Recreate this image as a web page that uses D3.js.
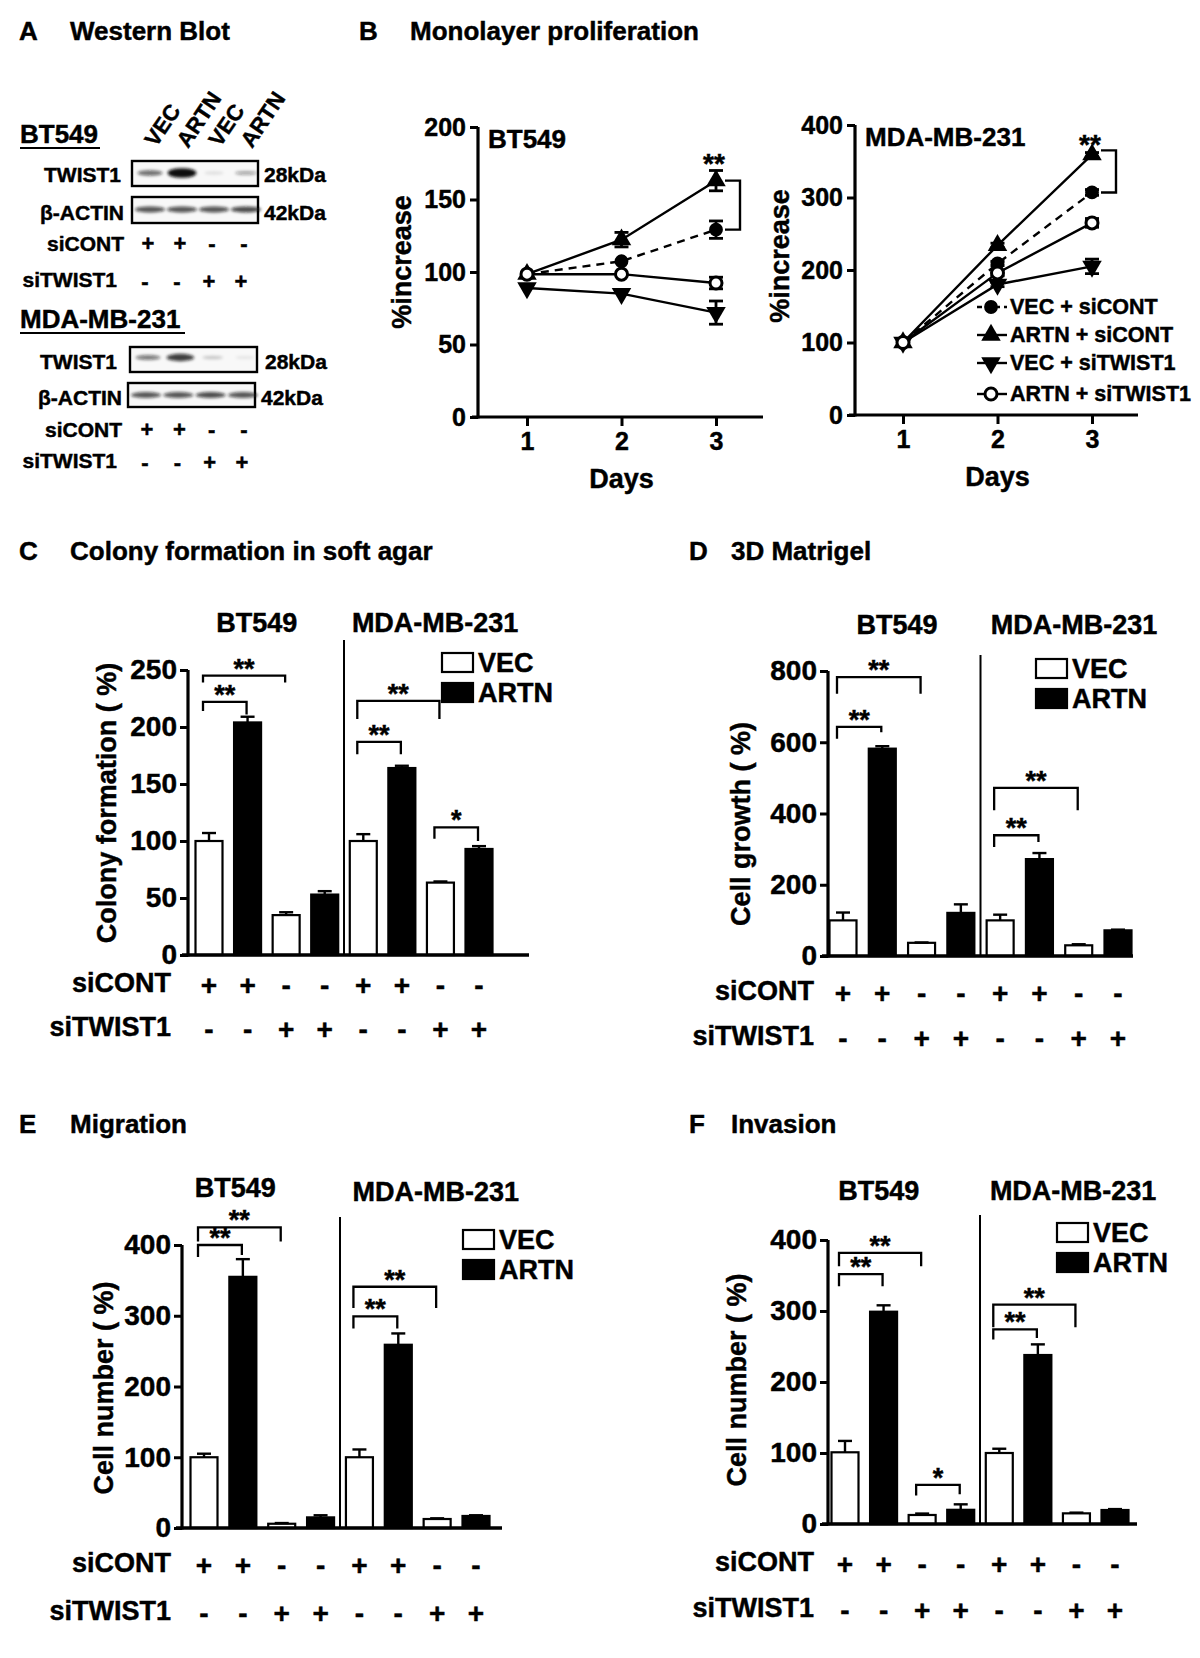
<!DOCTYPE html>
<html><head><meta charset="utf-8">
<script src="https://cdn.jsdelivr.net/npm/d3@7"></script>
<style>
body{margin:0;background:#fff;}
svg text{font-family:"Liberation Sans",Arial,Helvetica,sans-serif;font-weight:bold;fill:#000;stroke:#000;stroke-width:0.45px;}
</style></head><body>
<svg id="fig" width="1200" height="1658"></svg>
<script>
// ---------------- DATA ----------------
const laneLabels = ["VEC", "ARTN", "VEC", "ARTN"];
const blotSiCONT = ["+", "+", "-", "-"];
const blotSiTWIST1 = ["-", "-", "+", "+"];
const bt549TwistBands = [0.6, 1.0, 0.1, 0.35];
const bt549ActinBands = [0.7, 0.7, 0.7, 0.75];
const mdaTwistBands = [0.55, 0.8, 0.2, 0.08];
const mdaActinBands = [0.7, 0.7, 0.75, 0.7];

const days = [1, 2, 3];
const lineSeries = ["VEC + siCONT", "ARTN + siCONT", "VEC + siTWIST1", "ARTN + siTWIST1"];
const bt549VecSiCONT = [98.5, 107.4, 129.2];
const bt549ArtnSiCONT = [98.5, 122.3, 163];
const bt549VecSiTWIST1 = [89, 85.1, 72];
const bt549ArtnSiTWIST1 = [98.5, 98.5, 92.4];
const bt549VecSiCONTErr = [1.5, 1.5, 6];
const bt549ArtnSiCONTErr = [1.5, 5, 7];
const bt549VecSiTWIST1Err = [1, 1.5, 8];
const bt549ArtnSiTWIST1Err = [1.5, 2, 4];
const mdaVecSiCONT = [100, 209, 307];
const mdaArtnSiCONT = [100, 234, 359];
const mdaVecSiTWIST1 = [100, 180, 205];
const mdaArtnSiTWIST1 = [100, 196, 265];
const mdaVecSiCONTErr = [2, 3, 4];
const mdaArtnSiCONTErr = [2, 3, 3];
const mdaVecSiTWIST1Err = [2, 3, 10];
const mdaArtnSiTWIST1Err = [2, 4, 6];

const cellLines = ["BT549", "MDA-MB-231"];
const barTypes = ["VEC", "ARTN", "VEC", "ARTN", "VEC", "ARTN", "VEC", "ARTN"];
const barSiCONT = ["+", "+", "-", "-", "+", "+", "-", "-"];
const barSiTWIST1 = ["-", "-", "+", "+", "-", "-", "+", "+"];

const colonyMean = [100, 204, 35, 53, 100, 164, 63.5, 93];
const colonyErr = [7, 5, 2.5, 3, 6, 2, 1, 2.5];
const matrigelMean = [100, 582, 37, 121, 100, 272, 30, 72];
const matrigelErr = [22, 7, 1, 24, 16, 17, 3, 2];
const migrationMean = [100, 355, 6, 15, 100, 259, 12.7, 17];
const migrationErr = [5, 25, 1, 3, 11, 16, 1, 1];
const invasionMean = [101, 299, 12.7, 20, 100, 238, 15, 19.7];
const invasionErr = [16, 9, 2, 7.7, 6, 15, 1, 1.3];

// significance brackets: [from bar, to bar, top value, left leg value, right leg value, label]
const colonySig = [[0,2,245,239,239,"**"],[0,1,222,214,211,"**"],[4,6,223,207,207,"**"],[4,5,187,176,176,"**"],[6,7,112,102,100,"*"]];
const matrigelSig = [[0,2,783,736,736,"**"],[0,1,643,610,628,"**"],[4,6,472,409,409,"**"],[4,5,339,306,320,"**"]];
const migrationSig = [[0,2,425,405,405,"**"],[0,1,400,383,386,"**"],[4,6,341,311,311,"**"],[4,5,299,282,282,"**"]];
const invasionSig = [[0,2,382,363,363,"**"],[0,1,352,335,335,"**"],[2,3,55,40,42,"*"],[4,6,309,277,277,"**"],[4,5,274,260,262,"**"]];

// ---------------- DRAW ----------------
const svg = d3.select("#fig");
const defs = svg.append("defs");
defs.append("filter").attr("id","blur").attr("x","-50%").attr("y","-100%").attr("width","200%").attr("height","300%")
  .append("feGaussianBlur").attr("stdDeviation", 1.5);

function txt(g, x, y, s, size, anchor) {
  return g.append("text").attr("x", x).attr("y", y).text(s)
    .attr("font-size", size).attr("text-anchor", anchor || "start");
}

// Panel headers
txt(svg, 19, 40, "A", 26); txt(svg, 70, 40, "Western Blot", 26);
txt(svg, 359, 40, "B", 26); txt(svg, 410, 40, "Monolayer proliferation", 26);
txt(svg, 19, 560, "C", 26); txt(svg, 70, 560, "Colony formation in soft agar", 26);
txt(svg, 689, 560, "D", 26); txt(svg, 731, 560, "3D Matrigel", 26);
txt(svg, 19, 1133, "E", 26); txt(svg, 70, 1133, "Migration", 26);
txt(svg, 689, 1133, "F", 26); txt(svg, 731, 1133, "Invasion", 26);

// ---------- Panel A: western blot ----------
function blotBox(x0, x1, y0, y1, bands, bandYFrac, thick) {
  svg.append("rect").attr("x", x0).attr("y", y0).attr("width", x1 - x0).attr("height", y1 - y0)
    .attr("fill", "#f8f8f8").attr("stroke", "#000").attr("stroke-width", 2.4);
  const lx = d3.scalePoint().domain(d3.range(bands.length)).range([x0 + 18, x1 - 12]);
  const cy = y0 + (y1 - y0) * bandYFrac;
  svg.append("g").attr("filter", "url(#blur)").selectAll("ellipse").data(bands).join("ellipse")
    .attr("cx", (d, i) => lx(i)).attr("cy", cy)
    .attr("rx", d => thick ? 9 + 6 * Math.min(d, 0.9) : 15)
    .attr("ry", d => thick ? 1.6 + 3.2 * d * d : 3)
    .attr("fill", "#111").attr("opacity", d => Math.min(1, d));
  return lx;
}
// BT549 block
txt(svg, 20, 143, "BT549", 26);
svg.append("line").attr("x1", 20).attr("x2", 100).attr("y1", 148).attr("y2", 148).attr("stroke", "#000").attr("stroke-width", 2.2);
const lx1 = blotBox(132, 258, 161, 186, bt549TwistBands, 0.48, true);
blotBox(132, 258, 197, 223, bt549ActinBands, 0.48, false);
laneLabels.forEach((l, i) => {
  svg.append("text").attr("transform", `translate(${lx1(i) + 6},${150 - (i % 2 ? 1 : 2)}) rotate(-56)`)
    .attr("font-size", 22).text(l);
});
txt(svg, 121, 182, "TWIST1", 21, "end"); txt(svg, 264, 182, "28kDa", 21);
txt(svg, 124, 220, "β-ACTIN", 21, "end"); txt(svg, 264, 220, "42kDa", 21);
txt(svg, 124, 251, "siCONT", 21, "end");
txt(svg, 117, 287, "siTWIST1", 21, "end");
blotSiCONT.forEach((s, i) => txt(svg, lx1(i) - 2, 251, s, 22, "middle"));
blotSiTWIST1.forEach((s, i) => txt(svg, lx1(i) - 5, 289, s, 22, "middle"));
// MDA block
txt(svg, 20, 328, "MDA-MB-231", 26);
svg.append("line").attr("x1", 20).attr("x2", 185).attr("y1", 333).attr("y2", 333).attr("stroke", "#000").attr("stroke-width", 2.2);
const lx2 = blotBox(130, 257, 347, 372, mdaTwistBands, 0.42, true);
blotBox(128, 255, 383, 407, mdaActinBands, 0.5, false);
txt(svg, 117, 369, "TWIST1", 21, "end"); txt(svg, 265, 369, "28kDa", 21);
txt(svg, 122, 405, "β-ACTIN", 21, "end"); txt(svg, 261, 405, "42kDa", 21);
txt(svg, 122, 437, "siCONT", 21, "end");
txt(svg, 117, 468, "siTWIST1", 21, "end");
blotSiCONT.forEach((s, i) => txt(svg, lx2(i) - 1, 437, s, 22, "middle"));
blotSiTWIST1.forEach((s, i) => txt(svg, lx2(i) - 3, 470, s, 22, "middle"));

// ---------- Panel B: line charts ----------
const symCircle = d3.symbol().type(d3.symbolCircle).size(150);
const symTriUp = d3.symbol().type(d3.symbolTriangle).size(165);
function drawMarker(g, k, cx, cy) {
  if (k === 0) g.append("path").attr("d", symCircle()).attr("transform", `translate(${cx},${cy})`).attr("fill", "#000");
  else if (k === 1) g.append("path").attr("d", symTriUp()).attr("transform", `translate(${cx},${cy})`).attr("fill", "#000");
  else if (k === 2) g.append("path").attr("d", symTriUp()).attr("transform", `translate(${cx},${cy}) rotate(180)`).attr("fill", "#000");
  else g.append("circle").attr("cx", cx).attr("cy", cy).attr("r", 6).attr("fill", "#fff").attr("stroke", "#000").attr("stroke-width", 3);
}
function drawLineChart(o) {
  const g = svg.append("g");
  const x = d3.scaleLinear().domain([1, 3]).range(o.xr);
  const y = d3.scaleLinear().domain([0, o.ymax]).range([o.y0, o.ytop]);
  const ya = g.append("g").attr("transform", `translate(${o.ax},0)`)
    .call(d3.axisLeft(y).tickValues(o.ticks).tickSize(8).tickSizeOuter(0).tickPadding(4));
  ya.select(".domain").remove();
  ya.selectAll("line").attr("stroke-width", 3);
  ya.selectAll("text").attr("font-size", 25).attr("font-family", null);
  g.append("line").attr("x1", o.ax).attr("x2", o.ax).attr("y1", o.y0 + 1.5).attr("y2", o.ytop).attr("stroke", "#000").attr("stroke-width", 3.2);
  g.append("line").attr("x1", o.ax - 6).attr("x2", o.xend).attr("y1", o.y0).attr("y2", o.y0).attr("stroke", "#000").attr("stroke-width", 3.2);
  const xa = g.append("g").attr("transform", `translate(0,${o.y0})`)
    .call(d3.axisBottom(x).tickValues(days).tickFormat(d3.format("d")).tickSize(9).tickPadding(6));
  xa.select(".domain").remove();
  xa.selectAll("line").attr("stroke-width", 3);
  xa.selectAll("text").attr("font-size", 25).attr("font-family", null);
  txt(g, (o.xr[0] + o.xr[1]) / 2, o.y0 + 71, "Days", 27, "middle");
  g.append("text").attr("transform", `translate(${o.ylx},${o.yly}) rotate(-90)`).attr("text-anchor", "middle")
    .attr("dominant-baseline", "central").attr("font-size", 27).text("%increase");
  txt(g, o.ax + 10, o.ytop + 21, o.title, 26);
  const line = d3.line().x((d, i) => x(days[i])).y(d => y(d));
  o.series.forEach((s, k) => {
    g.append("path").attr("d", line(s.v)).attr("fill", "none").attr("stroke", "#000").attr("stroke-width", 2.4)
      .attr("stroke-dasharray", k === 0 ? "8,6" : null);
  });
  o.series.forEach((s, k) => {
    s.v.forEach((v, i) => {
      const e = s.e[i];
      if (e < 2.5) return;
      const xx = x(days[i]);
      g.append("line").attr("x1", xx).attr("x2", xx).attr("y1", y(v - e)).attr("y2", y(v + e)).attr("stroke", "#000").attr("stroke-width", 2.8);
      [v - e, v + e].forEach(b => g.append("line").attr("x1", xx - 7).attr("x2", xx + 7).attr("y1", y(b)).attr("y2", y(b)).attr("stroke", "#000").attr("stroke-width", 2.8));
    });
    s.v.forEach((v, i) => drawMarker(g, k, x(days[i]), y(v)));
  });
  return {g, x, y};
}
const bLeft = drawLineChart({
  ax: 478, xr: [527, 716], xend: 763, y0: 417, ytop: 127, ymax: 200, ticks: [0, 50, 100, 150, 200],
  ylx: 402, yly: 262, title: "BT549",
  series: [
    {v: bt549VecSiCONT, e: bt549VecSiCONTErr},
    {v: bt549ArtnSiCONT, e: bt549ArtnSiCONTErr},
    {v: bt549VecSiTWIST1, e: bt549VecSiTWIST1Err},
    {v: bt549ArtnSiTWIST1, e: bt549ArtnSiTWIST1Err}
  ]
});
const bRight = drawLineChart({
  ax: 855, xr: [903, 1092], xend: 1138, y0: 415, ytop: 125, ymax: 400, ticks: [0, 100, 200, 300, 400],
  ylx: 780, yly: 256, title: "MDA-MB-231",
  series: [
    {v: mdaVecSiCONT, e: mdaVecSiCONTErr},
    {v: mdaArtnSiCONT, e: mdaArtnSiCONTErr},
    {v: mdaVecSiTWIST1, e: mdaVecSiTWIST1Err},
    {v: mdaArtnSiTWIST1, e: mdaArtnSiTWIST1Err}
  ]
});
function lineBracket(c, vTop, vBot, x0, x1, label, dy) {
  const yT = c.y(vTop), yB = c.y(vBot);
  c.g.append("path").attr("d", `M${x0},${yT}H${x1}V${yB}H${x0}`).attr("fill", "none").attr("stroke", "#000").attr("stroke-width", 2.4);
  txt(c.g, c.x(3) - 2, yT + dy, label, 28, "middle");
}
lineBracket(bLeft, bt549ArtnSiCONT[2], bt549VecSiCONT[2], 725, 740, "**", -8);
lineBracket(bRight, mdaArtnSiCONT[2] + 6, mdaVecSiCONT[2], 1101, 1116, "**", 4);
// legend for B
const legY = [307, 335, 363, 394];
lineSeries.forEach((s, k) => {
  const g = bRight.g;
  g.append("line").attr("x1", 977).attr("x2", 1007).attr("y1", legY[k]).attr("y2", legY[k]).attr("stroke", "#000").attr("stroke-width", 2.4)
    .attr("stroke-dasharray", k === 0 ? "5,4" : null);
  drawMarker(g, k, 991, legY[k]);
  g.append("text").attr("x", 1010).attr("y", legY[k]).attr("dominant-baseline", "central").attr("font-size", 21.5).text(s);
});

// ---------- Bar panels ----------
function drawBarPanel(o) {
  const g = svg.append("g");
  const x = d3.scalePoint().domain(d3.range(8)).range([o.c0, o.c1]);
  const y = d3.scaleLinear().domain([0, o.ymax]).range([o.y0, o.ytop]);
  const bw = 27;
  const ya = g.append("g").attr("transform", `translate(${o.ax},0)`)
    .call(d3.axisLeft(y).tickValues(d3.range(0, o.ymax + 1, o.step)).tickSize(8).tickSizeOuter(0).tickPadding(3));
  ya.select(".domain").remove();
  ya.selectAll("line").attr("stroke-width", 3);
  ya.selectAll("text").attr("font-size", 28).attr("font-family", null);
  g.append("line").attr("x1", o.ax).attr("x2", o.ax).attr("y1", o.y0 + 1.5).attr("y2", o.ytop).attr("stroke", "#000").attr("stroke-width", 3.2);
  const sx = (x(3) + x(4)) / 2;
  g.append("line").attr("x1", sx).attr("x2", sx).attr("y1", o.sepTop).attr("y2", o.y0).attr("stroke", "#000").attr("stroke-width", 2);
  g.selectAll("rect.bar").data(o.mean).join("rect").attr("class", "bar")
    .attr("x", (d, i) => x(i) - bw / 2).attr("width", bw)
    .attr("y", d => y(d)).attr("height", d => o.y0 - y(d))
    .attr("fill", (d, i) => barTypes[i] === "ARTN" ? "#000" : "#fff")
    .attr("stroke", "#000").attr("stroke-width", 2.2);
  o.mean.forEach((m, i) => {
    const e = o.err[i];
    const xx = x(i);
    g.append("line").attr("x1", xx).attr("x2", xx).attr("y1", y(m)).attr("y2", y(m + e)).attr("stroke", "#000").attr("stroke-width", 2.4);
    g.append("line").attr("x1", xx - 7).attr("x2", xx + 7).attr("y1", y(m + e)).attr("y2", y(m + e)).attr("stroke", "#000").attr("stroke-width", 2.4);
  });
  g.append("line").attr("x1", o.ax - 6).attr("x2", o.xend).attr("y1", o.y0).attr("y2", o.y0).attr("stroke", "#000").attr("stroke-width", 3.4);
  o.sig.forEach(([a, b, top, l, r, lab]) => {
    const xa = x(a) - 6, xb = x(b) - 1;
    g.append("path").attr("d", `M${xa},${y(l)}V${y(top)}H${xb}V${y(r)}`).attr("fill", "none").attr("stroke", "#000").attr("stroke-width", 2.3);
    txt(g, (xa + xb) / 2, y(top) + 2, lab, 27, "middle");
  });
  txt(g, (x(0) + x(3)) / 2 + o.gOff[0], o.gy[0], cellLines[0], 27, "middle");
  txt(g, (x(4) + x(7)) / 2 + o.gOff[1], o.gy[1], cellLines[1], 27, "middle");
  ["VEC", "ARTN"].forEach((t, k) => {
    const ly = o.leg[1] + k * 30;
    g.append("rect").attr("x", o.leg[0]).attr("y", ly).attr("width", 31).attr("height", 19)
      .attr("fill", t === "ARTN" ? "#000" : "#fff").attr("stroke", "#000").attr("stroke-width", 2.2);
    g.append("text").attr("x", o.leg[0] + 36).attr("y", ly + 10).attr("dominant-baseline", "central").attr("font-size", 27).text(t);
  });
  g.append("text").attr("transform", `translate(${o.ylx},${o.yly}) rotate(-90)`).attr("text-anchor", "middle")
    .attr("dominant-baseline", "central").attr("font-size", 27).text(o.ylabel);
  txt(g, o.rowX, o.rows[0], "siCONT", 27, "end").attr("dominant-baseline", "central");
  txt(g, o.rowX, o.rows[1], "siTWIST1", 27, "end").attr("dominant-baseline", "central");
  barSiCONT.forEach((s, i) => txt(g, x(i), o.rows[0] + 2, s, 28, "middle").attr("dominant-baseline", "central"));
  barSiTWIST1.forEach((s, i) => txt(g, x(i), o.rows[1] + 2, s, 28, "middle").attr("dominant-baseline", "central"));
}

drawBarPanel({mean: colonyMean, err: colonyErr, sig: colonySig, ymax: 250, step: 50,
  ax: 188, xend: 529, c0: 209, c1: 479, y0: 955, ytop: 670, sepTop: 640, gy: [632, 632], gOff: [-10, 14],
  leg: [442, 653], ylx: 107, yly: 803, ylabel: "Colony formation ( %)", rowX: 171, rows: [983, 1027]});
drawBarPanel({mean: matrigelMean, err: matrigelErr, sig: matrigelSig, ymax: 800, step: 200,
  ax: 828, xend: 1133, c0: 843, c1: 1118, y0: 956, ytop: 671, sepTop: 655, gy: [634, 634], gOff: [-5, 15],
  leg: [1036, 659], ylx: 741, yly: 824, ylabel: "Cell growth ( %)", rowX: 814, rows: [991, 1036]});
drawBarPanel({mean: migrationMean, err: migrationErr, sig: migrationSig, ymax: 400, step: 100,
  ax: 182, xend: 502, c0: 204, c1: 476, y0: 1528, ytop: 1245, sepTop: 1217, gy: [1197, 1201], gOff: [-27, 18],
  leg: [463, 1230], ylx: 104, yly: 1388, ylabel: "Cell number ( %)", rowX: 171, rows: [1563, 1611]});
drawBarPanel({mean: invasionMean, err: invasionErr, sig: invasionSig, ymax: 400, step: 100,
  ax: 828, xend: 1137, c0: 845, c1: 1115, y0: 1524, ytop: 1240, sepTop: 1215, gy: [1200, 1200], gOff: [-24, 16],
  leg: [1057, 1223], ylx: 737, yly: 1380, ylabel: "Cell number ( %)", rowX: 814, rows: [1562, 1608]});
</script>
</body></html>
